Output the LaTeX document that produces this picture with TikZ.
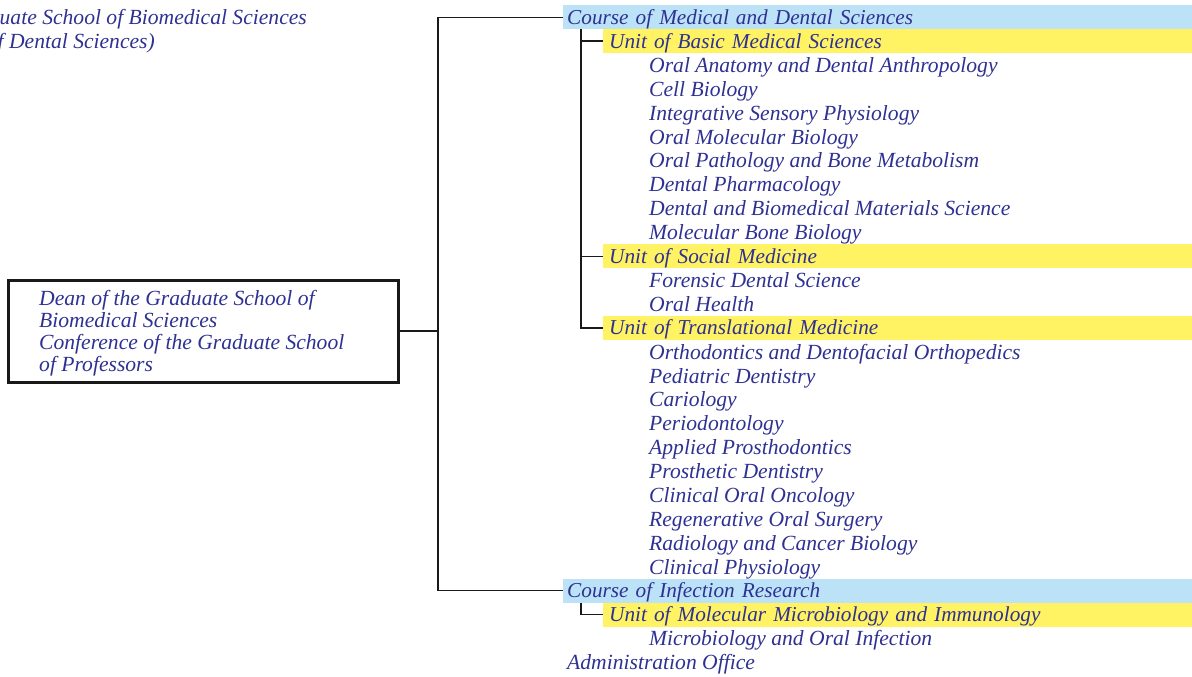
\documentclass[tikz,border=0pt]{standalone}
\usepackage{fontspec}
\setmainfont{Liberation Serif}
\definecolor{tblue}{RGB}{46,49,146}
\definecolor{bandblue}{RGB}{187,226,247}
\definecolor{bandyellow}{RGB}{255,243,100}
\begin{document}
\begin{tikzpicture}[x=1pt,y=-1pt,
  txt/.style={font=\fontsize{21.6}{22}\selectfont\itshape, text=tblue, inner sep=0pt, anchor=base west},
  item/.style={txt},
  band/.style={font=\fontsize{21.25}{22}\selectfont\itshape, text=tblue, anchor=north west, inner ysep=0pt,
    minimum height=24, text height=19, text depth=5, align=left},
  course/.style={band, fill=bandblue, inner xsep=4, text width=1192-563-8},
  unit/.style={band, fill=bandyellow, inner xsep=6, text width=1192-603-12},
  conn/.style={draw=black!90, line width=1.3pt},
  rootbox/.style={draw=black!90, line width=3pt, minimum width=389.5, minimum height=102, inner sep=0pt}
]
\useasboundingbox (0,0) rectangle (1192,677);
\def\rh{23.9}
% top-left header (clipped in original)
\node[txt, anchor=base east] (h1) at (307,24.5) {uate School of Biomedical Sciences};
\node[txt, anchor=base east] (h2) at (155,48.4) {f Dental Sciences)};
% root box
\node[rootbox] (box) at (203.25,331) {};
\node[txt] (bx1) at (39,305) {Dean of the Graduate School of};
\node[txt] (bx2) at (39,327) {Biomedical Sciences};
\node[txt] (bx3) at (39,349) {Conference of the Graduate School};
\node[txt] (bx4) at (39,371) {of Professors};
% bands
\node[course] (c1) at (563,5+0*\rh) {Course of Medical and Dental Sciences};
\node[unit] (u1) at (603,5+1*\rh) {Unit of Basic Medical Sciences};
\node[unit] (u2) at (603,5+10*\rh) {Unit of Social Medicine};
\node[unit] (u3) at (603,5+13*\rh) {Unit of Translational Medicine};
\node[course] (c2) at (563,5+24*\rh) {Course of Infection Research};
\node[unit] (u4) at (603,5+25*\rh) {Unit of Molecular Microbiology and Immunology};
% items
\foreach \k/\t [count=\i] in {2/Oral Anatomy and Dental Anthropology,3/Cell Biology,4/Integrative Sensory Physiology,5/Oral Molecular Biology,6/Oral Pathology and Bone Metabolism,7/Dental Pharmacology,8/Dental and Biomedical Materials Science,9/Molecular Bone Biology,11/Forensic Dental Science,12/Oral Health,14/Orthodontics and Dentofacial Orthopedics,15/Pediatric Dentistry,16/Cariology,17/Periodontology,18/Applied Prosthodontics,19/Prosthetic Dentistry,20/Clinical Oral Oncology,21/Regenerative Oral Surgery,22/Radiology and Cancer Biology,23/Clinical Physiology,26/Microbiology and Oral Infection}
  \node[item] (it\i) at (649,24.5+\k*\rh) {\t};
\node[txt] (admin) at (567,24.5+27*\rh) {Administration Office};
% connectors
\coordinate (tr) at (438,0);
\coordinate (br) at (581,0);
\draw[conn] (box.east) -- (box.east -| tr);
\draw[conn] (c1.west) -- (c1.west -| tr) -- (c2.west -| tr) -- (c2.west);
\draw[conn] (c1.south -| br) -- (u3.west -| br) -- (u3.west);
\draw[conn] (u1.west -| br) -- (u1.west);
\draw[conn] (u2.west -| br) -- (u2.west);
\draw[conn] (c2.south -| br) |- (u4.west);
\end{tikzpicture}
\end{document}
